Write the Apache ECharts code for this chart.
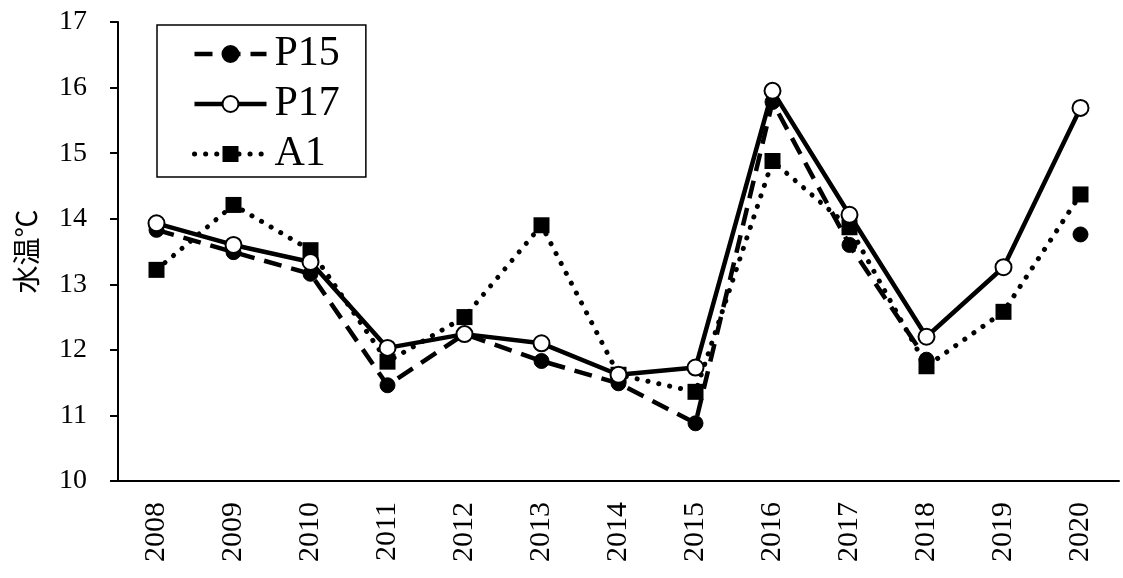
<!DOCTYPE html>
<html><head><meta charset="utf-8">
<script src="https://cdn.jsdelivr.net/npm/echarts@6/dist/echarts.min.js"></script>
<style>html,body{margin:0;padding:0;background:#fff}#c{width:1123px;height:578px}</style>
</head><body><div id="c"></div>
<script>
const years = ['2008','2009','2010','2011','2012','2013','2014','2015','2016','2017','2018','2019','2020'];
const p15 = [13.83, 13.49, 13.16, 11.46, 12.24, 11.83, 11.49, 10.88, 15.78, 13.6, 11.85, null, 13.76];
const p17 = [13.93, 13.6, 13.34, 12.03, 12.24, 12.1, 11.62, 11.73, 15.95, 14.06, 12.2, 13.26, 15.69];
const a1  = [13.22, 14.21, 13.52, 11.82, 12.5, 13.9, 11.62, 11.36, 14.88, 13.87, 11.75, 12.58, 14.37];
const yTicks = [10, 17, 1];

const chart = echarts.init(document.getElementById('c'), null, {renderer: 'canvas'});
const serif = 'Liberation Serif';
chart.setOption({
  animation: false,
  backgroundColor: '#fff',
  grid: {left: 118, right: 4, top: 22, bottom: 97},
  legend: {
    left: 157, top: 25, orient: 'vertical',
    padding: [8, 26, 2, 35],
    itemGap: 8, itemWidth: 72, itemHeight: 20,
    borderColor: '#000', borderWidth: 1.5,
    lineStyle: {width: 'inherit'},
    textStyle: {fontFamily: serif, fontSize: 42, lineHeight: 40, color: '#000', padding: [0, 0, 0, 3]},
    data: ['P15', 'P17', 'A1']
  },
  xAxis: {
    type: 'category', data: years, boundaryGap: true,
    axisLine: {lineStyle: {color: '#000', width: 2}},
    axisTick: {inside: true, length: 11, lineStyle: {color: '#000', width: 2}},
    axisLabel: {rotate: 90, fontFamily: serif, fontSize: 30, color: '#000', margin: 21}
  },
  yAxis: {
    type: 'value', min: yTicks[0], max: yTicks[1], interval: yTicks[2],
    name: '水温℃', nameLocation: 'middle', nameGap: 78, nameRotate: 90,
    nameTextStyle: {fontFamily: '"Noto Sans CJK JP", sans-serif', fontSize: 28, color: '#000'},
    splitLine: {show: false},
    axisLine: {show: true, lineStyle: {color: '#000', width: 2}},
    axisTick: {show: true, length: 8, lineStyle: {color: '#000', width: 2}},
    axisLabel: {fontFamily: serif, fontSize: 28, color: '#000', margin: 31}
  },
  series: [
    {name: 'P15', type: 'line', data: p15, z: 3, connectNulls: false,
     symbol: 'circle', symbolSize: 15,
     itemStyle: {color: '#000', borderColor: '#000', borderWidth: 1},
     lineStyle: {color: '#000', width: 4.5, type: [18, 10]}},
    {name: 'P17', type: 'line', data: p17, z: 5,
     symbol: 'circle', symbolSize: 16,
     itemStyle: {color: '#fff', borderColor: '#000', borderWidth: 2},
     lineStyle: {color: '#000', width: 4.5, type: 'solid'}},
    {name: 'A1', type: 'line', data: a1, z: 4,
     symbol: 'rect', symbolSize: 16,
     itemStyle: {color: '#000', borderColor: '#000', borderWidth: 0},
     lineStyle: {color: '#000', width: 5, type: [0.1, 11], cap: 'round'}}
  ]
});
</script></body></html>
